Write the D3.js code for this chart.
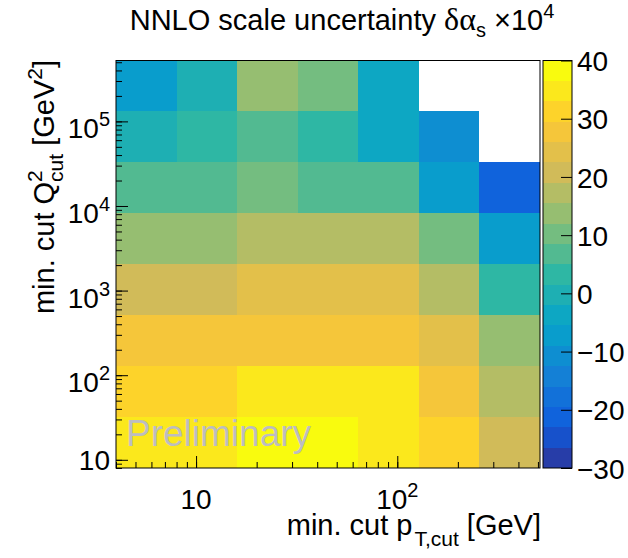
<!DOCTYPE html>
<html>
<head>
<meta charset="utf-8">
<script src="https://cdn.jsdelivr.net/npm/d3@7"></script>
<style>
  body { margin: 0; background: #fff; }
  svg { display: block; font-family: "Liberation Sans", Arial, Helvetica, sans-serif; }
</style>
</head>
<body>
<svg id="chart" width="628" height="558"></svg>
<script>
// bin edges (pT in GeV, Q2 in GeV^2)
const ptEdges = [4, 8, 16, 32, 64, 128, 256, 512];
const q2Edges = [8, 32, 128, 512, 2048, 8192, 32768, 131072, 524288];

// scale uncertainty x 1e4, one array per Q2 bin (lowest first), one entry per pT bin
const q2Bin1 = [35, 35, 38, 38, 35, 31, 21];
const q2Bin2 = [31, 31, 35, 35, 35, 28, 17];
const q2Bin3 = [28, 28, 28, 28, 28, 24, 13];
const q2Bin4 = [21, 21, 24, 24, 24, 17, 3];
const q2Bin5 = [14, 14, 17, 17, 17, 10, -7];
const q2Bin6 = [7, 7, 10, 7, 7, -7, -21];
const q2Bin7 = [-0.5, 3, 7, 3, -4, -11, null];
const q2Bin8 = [-7, 0, 14, 10, -4, null, null];
const rows = [q2Bin1, q2Bin2, q2Bin3, q2Bin4, q2Bin5, q2Bin6, q2Bin7, q2Bin8];

const zMin = -30, zMax = 40, nContours = 20;
const zTicks = [-30, -20, -10, 0, 10, 20, 30, 40];
const xLabels = [[10, '10', null], [100, '10', '2']];
const yLabels = [[10, '10', null], [100, '10', '2'], [1000, '10', '3'], [10000, '10', '4'], [100000, '10', '5']];

// ROOT kBird palette
const birdStops = [0, 0.125, 0.25, 0.375, 0.5, 0.625, 0.75, 0.875, 1];
const birdR = [0.2082, 0.0592, 0.0780, 0.0232, 0.1802, 0.5301, 0.8186, 0.9956, 0.9764];
const birdG = [0.1664, 0.3599, 0.5041, 0.6419, 0.7178, 0.7492, 0.7328, 0.7862, 0.9832];
const birdB = [0.5293, 0.8684, 0.8385, 0.7914, 0.6425, 0.4662, 0.3499, 0.1968, 0.0539];

function paletteColor(j) {
  const f = j / 254;
  let k = 0;
  while (k < birdStops.length - 2 && f > birdStops[k + 1]) k++;
  const t = (f - birdStops[k]) / (birdStops[k + 1] - birdStops[k]);
  const c = arr => Math.round(255 * (arr[k] + t * (arr[k + 1] - arr[k])));
  return d3.rgb(c(birdR), c(birdG), c(birdB)).formatHex();
}
function bandColor(i) {
  return paletteColor(Math.floor((i + 0.99) * 255 / nContours));
}
function valueColor(v) {
  const i = Math.max(0, Math.min(nContours - 1, Math.floor((v - zMin) / (zMax - zMin) * nContours)));
  return bandColor(i);
}

const plot = { left: 116, right: 540, top: 60.5, bottom: 468 };
const bar = { left: 543, right: 572 };

const svg = d3.select('#chart');
const x = d3.scaleLog().domain([ptEdges[0], ptEdges[ptEdges.length - 1]]).range([plot.left, plot.right]);
const y = d3.scaleLog().domain([q2Edges[0], q2Edges[q2Edges.length - 1]]).range([plot.bottom, plot.top]);
const z = d3.scaleLinear().domain([zMin, zMax]).range([plot.bottom, plot.top]);

// cells
const cells = [];
rows.forEach((row, r) => row.forEach((v, c) => {
  if (v !== null) cells.push({ r, c, v });
}));
svg.append('g').attr('shape-rendering', 'crispEdges')
  .selectAll('rect').data(cells).join('rect')
  .attr('x', d => x(ptEdges[d.c]))
  .attr('y', d => y(q2Edges[d.r + 1]))
  .attr('width', d => x(ptEdges[d.c + 1]) - x(ptEdges[d.c]))
  .attr('height', d => y(q2Edges[d.r]) - y(q2Edges[d.r + 1]))
  .attr('fill', d => valueColor(d.v));

// log minor ticks
function logTicks(lo, hi) {
  const out = [];
  for (let e = Math.floor(Math.log10(lo)); e <= Math.ceil(Math.log10(hi)); e++) {
    for (let m = 1; m < 10; m++) {
      const t = m * Math.pow(10, e);
      if (t >= lo && t <= hi) out.push(t);
    }
  }
  return out;
}
const xMinor = logTicks(4, 512);
const yMinor = logTicks(8, 524288);

function styleAxis(g) {
  g.select('.domain').remove();
  g.selectAll('.tick line').attr('stroke', '#000');
}
svg.append('g').attr('transform', `translate(0,${plot.bottom})`)
  .call(d3.axisBottom(x).tickValues(xMinor).tickSize(-6).tickFormat(''))
  .call(styleAxis);
svg.append('g').attr('transform', `translate(0,${plot.bottom})`)
  .call(d3.axisBottom(x).tickValues([10, 100]).tickSize(-12).tickFormat(''))
  .call(styleAxis);
svg.append('g').attr('transform', `translate(${plot.left},0)`)
  .call(d3.axisLeft(y).tickValues(yMinor).tickSize(-6).tickFormat(''))
  .call(styleAxis);
svg.append('g').attr('transform', `translate(${plot.left},0)`)
  .call(d3.axisLeft(y).tickValues([10, 100, 1000, 10000, 100000]).tickSize(-12).tickFormat(''))
  .call(styleAxis);

// frame
svg.append('rect')
  .attr('x', plot.left).attr('y', plot.top)
  .attr('width', plot.right - plot.left).attr('height', plot.bottom - plot.top)
  .attr('fill', 'none').attr('stroke', '#000').attr('stroke-width', 1);

// tick labels
const fs = 28;
xLabels.forEach(([v, base, sup]) => {
  const t = svg.append('text').attr('x', x(v)).attr('y', 509)
    .attr('text-anchor', 'middle').attr('font-size', fs).text(base);
  if (sup) t.append('tspan').attr('font-size', 20).attr('dy', -12).text(sup);
});
yLabels.forEach(([v, base, sup]) => {
  const t = svg.append('text').attr('x', 110).attr('y', y(v) + (sup ? 17 : 10))
    .attr('text-anchor', 'end').attr('font-size', fs).text(base);
  if (sup) t.append('tspan').attr('font-size', 20).attr('dy', -12).text(sup);
});

// axis titles
const xt = svg.append('text').attr('x', 541).attr('y', 535)
  .attr('text-anchor', 'end').attr('font-size', 29);
xt.append('tspan').text('min. cut p');
xt.append('tspan').attr('font-size', 21).attr('dx', 2).attr('dy', 11).text('T,cut');
xt.append('tspan').attr('dy', -11).text(' [GeV]');

const yt = svg.append('text').attr('transform', 'translate(54,60) rotate(-90)')
  .attr('text-anchor', 'end').attr('font-size', 29);
yt.append('tspan').text('min. cut Q');
yt.append('tspan').attr('font-size', 21).attr('dy', -12).text('2');
yt.append('tspan').attr('font-size', 21).attr('dx', -11.7).attr('dy', 21).text('cut');
yt.append('tspan').attr('dy', -9).text(' [GeV');
yt.append('tspan').attr('font-size', 21).attr('dy', -12).text('2');
yt.append('tspan').attr('dy', 12).text(']');

// title
const tt = svg.append('text').attr('x', 342).attr('y', 30)
  .attr('text-anchor', 'middle').attr('font-size', 29);
tt.append('tspan').text('NNLO scale uncertainty ');
tt.append('tspan').attr('font-family', '"Liberation Serif", "DejaVu Serif", serif')
  .attr('font-size', 32).text('δα');
tt.append('tspan').attr('font-size', 20).attr('dy', 7).text('s');
tt.append('tspan').attr('dy', -7).text(' ×10');
tt.append('tspan').attr('font-size', 20).attr('dy', -12).text('4');

// colour bar
const levels = d3.range(nContours + 1).map(i => zMin + i * (zMax - zMin) / nContours);
svg.append('g').attr('shape-rendering', 'crispEdges')
  .selectAll('rect').data(d3.range(nContours)).join('rect')
  .attr('x', bar.left).attr('width', bar.right - bar.left)
  .attr('y', i => z(levels[i + 1]))
  .attr('height', i => z(levels[i]) - z(levels[i + 1]))
  .attr('fill', i => bandColor(i));
svg.append('rect')
  .attr('x', bar.left).attr('y', plot.top)
  .attr('width', bar.right - bar.left).attr('height', plot.bottom - plot.top)
  .attr('fill', 'none').attr('stroke', '#000').attr('stroke-width', 1);
svg.append('g').attr('transform', `translate(${bar.right},0)`)
  .call(d3.axisRight(z).tickValues(zTicks).tickSize(-11).tickPadding(5)
    .tickFormat(d => d < 0 ? '\u2212' + Math.abs(d) : String(d)))
  .call(styleAxis)
  .call(g => g.selectAll('text').attr('font-size', fs).attr('font-family', null)
    .attr('fill', '#000').attr('dy', '0.36em'));

// watermark
svg.append('text').attr('x', 126).attr('y', 446)
  .attr('font-size', 37).attr('fill', '#bdbdc0').text('Preliminary');
</script>
</body>
</html>
